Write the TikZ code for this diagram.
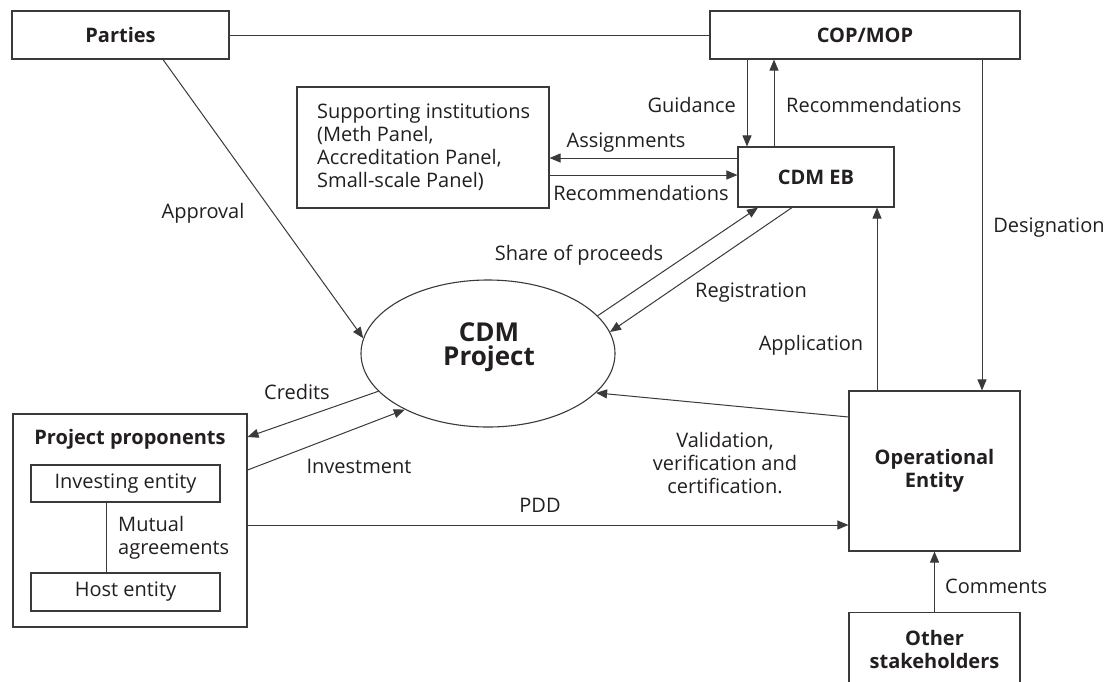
\documentclass[tikz,border=0pt]{standalone}
\usepackage{fontspec}
\setmainfont{Open Sans}
\usetikzlibrary{arrows.meta,shapes.geometric,calc}
\definecolor{ink}{HTML}{231F20}
\definecolor{linec}{HTML}{3A3A3A}
\begin{document}
\begin{tikzpicture}[x=1pt,y=-1pt,
  every node/.style={text=ink, font=\fontsize{20}{23}\selectfont},
  box/.style={draw=linec, line width=1.1pt, rectangle, inner sep=0pt},
  oval/.style={draw=linec, line width=1.1pt, ellipse, inner sep=0pt},
  title/.style={font=\fontsize{20}{23}\selectfont\bfseries, align=center},
  lbl/.style={inner sep=0pt, align=center},
  conn/.style={draw=linec, line width=1pt},
  arr/.style={conn, -{Triangle[length=11pt,width=9pt]}},
]
\useasboundingbox[fill=white] (0,0) rectangle (1115,681);
\clip (0,0) rectangle (1115,681);

% boxes
\node[box, title, minimum width=217pt, minimum height=48pt] (parties) at (120.5,35) {Parties};
\node[box, title, minimum width=310pt, minimum height=48pt] (cop) at (865,35) {COP/MOP};
\node[box, minimum width=252pt, minimum height=121pt] (sup) at (423,147.5) {};
\node[lbl, align=left, anchor=west] (suptext) at (317,147.5) {Supporting institutions\\(Meth Panel,\\Accreditation Panel,\\Small-scale Panel)};
\node[box, title, minimum width=156pt, minimum height=60pt] (eb) at (816,177) {CDM EB};
\node[oval, minimum width=254pt, minimum height=147pt] (proj) at (488,353.5) {};
\node[lbl, font=\fontsize{26}{24}\selectfont\bfseries] (projtext) at (489,347) {CDM\\Project};
\node[box, minimum width=234pt, minimum height=213pt] (prop) at (130,520.5) {};
\node[lbl, font=\fontsize{20}{23}\selectfont\bfseries] (proptitle) at (130,439) {Project proponents};
\node[box, minimum width=189pt, minimum height=37pt] (inv) at (125.5,483.5) {Investing entity};
\node[box, minimum width=189pt, minimum height=38pt] (host) at (125.5,592) {Host entity};
\node[box, title, minimum width=171pt, minimum height=160pt] (oe) at (934.5,471) {Operational\\Entity};
\node[box, minimum width=171pt, minimum height=110pt, anchor=north] (other) at (934.5,612) {};
\node[lbl, font=\fontsize{20}{23}\selectfont\bfseries] (othertext) at (934.5,649) {Other\\stakeholders};

% connectors
\draw[conn] (parties.east) -- (cop.west);
\draw[arr] (163,0 |- parties.south) -- (proj.173);
\draw[arr] (747,0 |- cop.south) -- (747,0 |- eb.north);
\draw[arr] (774,0 |- eb.north) -- (774,0 |- cop.south);
\draw[arr] (eb.west |- 0,158) -- (sup.east |- 0,158);
\draw[arr] (sup.east |- 0,175) -- (eb.west |- 0,175);
\draw[arr] (982,0 |- cop.south) -- (982,0 |- oe.north);
\draw[arr] (proj.19.3) -- (758,0 |- eb.south);
\draw[arr] (792,0 |- eb.south) -- (proj.10.7);
\draw[arr] (877,0 |- oe.north) -- (877,0 |- eb.south);
\draw[arr] (oe.west |- 0,417) -- (proj.340.5);
\draw[arr] (proj.199.6) -- (prop.east |- 0,437);
\draw[arr] (prop.east |- 0,470) -- (proj.214);
\draw[arr] (prop.east |- 0,525) -- (oe.west |- 0,525);
\draw[arr] (other.north) -- (oe.south);
\draw[conn] (106,0 |- inv.south) -- (106,0 |- host.north);

% labels
\node[lbl, anchor=east] (lguid) at (736,105) {Guidance};
\node[lbl, anchor=west] (lrec1) at (786,105) {Recommendations};
\node[lbl] (lassign) at (626,143) {Assignments};
\node[lbl] (lrec2) at (641,193) {Recommendations};
\node[lbl] (ldesig) at (1049,228) {Designation};
\node[lbl] (lappr) at (203,213) {Approval};
\node[lbl] (lshare) at (579,255) {Share of proceeds};
\node[lbl] (lreg) at (751,293) {Registration};
\node[lbl] (lappl) at (811,345) {Application};
\node[lbl] (lcred) at (297,392) {Credits};
\node[lbl] (linv) at (359,466) {Investment};
\node[lbl] (lpdd) at (540,505) {PDD};
\node[lbl] (lval) at (725,463) {Validation,\\verification and\\certification.};
\node[lbl, align=left, anchor=west] (lmut) at (118,538) {Mutual\\agreements};
\node[lbl, anchor=west] (lcom) at (945,586) {Comments};
\end{tikzpicture}
\end{document}
